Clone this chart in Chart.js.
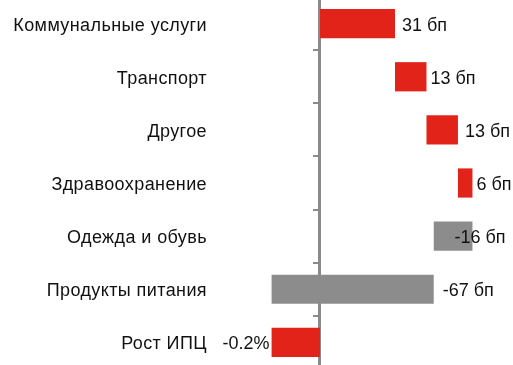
<!DOCTYPE html>
<html>
<head>
<meta charset="utf-8">
<script src="https://cdn.jsdelivr.net/npm/chart.js@4/dist/chart.umd.min.js"></script>
<style>
  html, body { margin: 0; padding: 0; background: #fff; overflow: hidden; }
  #wrap { width: 513px; height: 365px; overflow: hidden; position: relative; }
  #c { position: absolute; left: 0; top: -3px; }
</style>
</head>
<body>
<div id="wrap"><canvas id="c" width="513" height="372"></canvas></div>
<script>
// Contributions to the CPI change, basis points
const categories = ['Коммунальные услуги', 'Транспорт', 'Другое', 'Здравоохранение', 'Одежда и обувь', 'Продукты питания', 'Рост ИПЦ'];
const changesBp = [31, 13, 13, 6, -16, -67];
const totalPct = -0.2;

const RED = '#E2231A';
const GREY = '#8C8C8C';
const FONT_FAMILY = '"Liberation Sans", Arial, Helvetica, sans-serif';
const FONT_SIZE = 18;

// Waterfall: each step floats from the running total
const ranges = [];
const colors = [];
const labels = [];
let running = 0;
changesBp.forEach(v => {
  ranges.push([running, running + v]);
  running += v;
  colors.push(v >= 0 ? RED : GREY);
  labels.push(v + ' бп');
});
ranges.push([0, totalPct * 100]);
colors.push(RED);
labels.push(totalPct + '%');

// Slightly looser tracking for the category names
const tracking = {
  id: 'tracking',
  beforeDraw(chart) { chart.ctx.letterSpacing = '0.4px'; }
};

// Value labels beside the bars
const valueLabels = {
  id: 'valueLabels',
  afterDatasetsDraw(chart, args, opts) {
    const { ctx } = chart;
    const meta = chart.getDatasetMeta(0);
    const xs = chart.scales.x;
    ctx.save();
    ctx.letterSpacing = '0px';
    ctx.font = `${FONT_SIZE}px ${FONT_FAMILY}`;
    ctx.fillStyle = '#111';
    ctx.textBaseline = 'middle';
    meta.data.forEach((bar, i) => {
      const [a, b] = ranges[i];
      const y = bar.y + 2;
      if (i === ranges.length - 1) {
        ctx.textAlign = 'right';
        ctx.fillText(labels[i], xs.getPixelForValue(Math.min(a, b)) - 2, y);
      } else {
        ctx.textAlign = 'left';
        ctx.fillText(labels[i], xs.getPixelForValue(Math.max(a, b)) + opts.shift[i], y);
      }
    });
    ctx.restore();
  }
};

new Chart(document.getElementById('c'), {
  type: 'bar',
  data: {
    labels: categories,
    datasets: [{
      data: ranges,
      backgroundColor: colors,
      borderWidth: 0,
      categoryPercentage: 1,
      barPercentage: 0.55
    }]
  },
  options: {
    indexAxis: 'y',
    responsive: false,
    animation: false,
    layout: { padding: 0 },
    plugins: {
      legend: { display: false },
      tooltip: { enabled: false },
      valueLabels: { shift: [7, 4, 7, 4, -18, 9] }
    },
    scales: {
      x: {
        type: 'linear',
        min: -46.69,
        max: 79.75,
        display: false
      },
      y: {
        type: 'category',
        position: 'left',
        offset: true,
        grid: { display: false, drawTicks: false },
        border: { display: false },
        ticks: {
          color: '#111',
          font: { family: FONT_FAMILY, size: FONT_SIZE, lineHeight: 0.01 },
          padding: 0,
          labelOffset: 2
        },
        afterFit(scale) { scale.width = 207; }
      },
      zeroAxis: {
        type: 'category',
        axis: 'y',
        position: { x: 0 },
        labels: categories,
        offset: true,
        grid: { offset: true, drawOnChartArea: false, drawTicks: true, tickLength: 5, color: '#8A8A8A', lineWidth: 2 },
        border: { display: true, color: '#8A8A8A', width: 3 },
        ticks: { display: false }
      }
    }
  },
  plugins: [tracking, valueLabels]
});
</script>
</body>
</html>
